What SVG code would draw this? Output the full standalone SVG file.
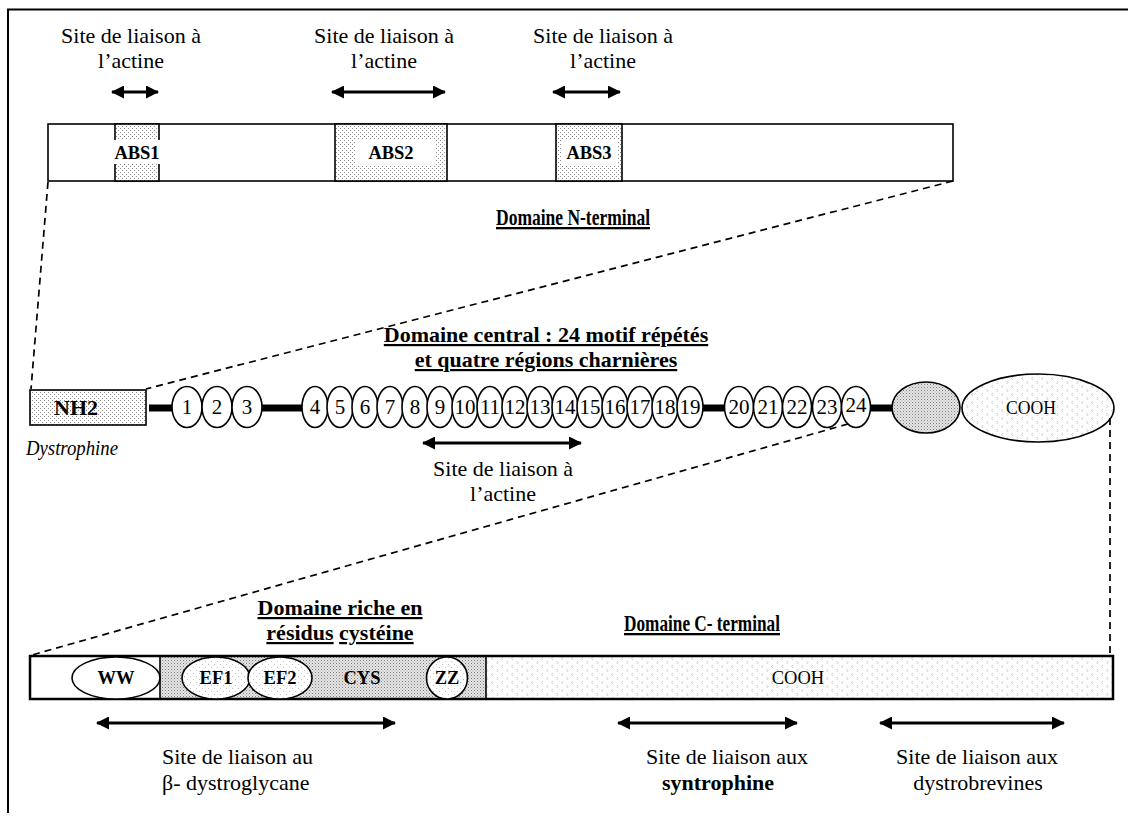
<svg xmlns="http://www.w3.org/2000/svg" width="1128" height="816" viewBox="0 0 1128 816">
  <style>
    .t { font-family: "Liberation Serif", "Times New Roman", serif; font-size: 22px; fill: #000; }
    .b { font-weight: bold; }
    .u { text-decoration: underline; }
    .c { text-anchor: middle; }
    .num { font-family: "Liberation Serif", "Times New Roman", serif; font-size: 21px; text-anchor: middle; fill: #000; }
    .lab { font-family: "Liberation Serif", "Times New Roman", serif; font-size: 18.5px; font-weight: bold; text-anchor: middle; fill: #000; }
    .edge { stroke: #000; stroke-width: 1.6; }
    .rep { fill: #fff; stroke: #000; stroke-width: 1.6; }
    .bar { stroke: #000; stroke-width: 7; }
    .dash { fill: none; stroke: #000; stroke-width: 1.7; stroke-dasharray: 7 5; }
    .arr { fill: none; stroke: #000; stroke-width: 3; marker-start: url(#head); marker-end: url(#head); }
  </style>
  <defs>
    <!-- fine stipple used for the actin-binding boxes and NH2 -->
    <pattern id="dots" width="4" height="4" patternUnits="userSpaceOnUse">
      <rect width="4" height="4" fill="#fff"/>
      <rect x="0" y="0" width="1" height="1" fill="#8c8c8c"/>
      <rect x="2" y="2" width="1" height="1" fill="#8c8c8c"/>
    </pattern>
    <!-- faint stipple inside the small domain ovals -->
    <pattern id="faint" width="6" height="6" patternUnits="userSpaceOnUse">
      <rect width="6" height="6" fill="#fff"/>
      <rect x="1" y="1" width="1" height="1" fill="#c4c4c4"/>
      <rect x="4" y="4" width="1" height="1" fill="#c4c4c4"/>
    </pattern>
    <!-- denser mesh for the cysteine-rich region and the grey oval -->
    <pattern id="mesh" width="3" height="3" patternUnits="userSpaceOnUse">
      <rect width="3" height="3" fill="#e6e6e6"/>
      <rect x="0" y="0" width="1" height="1" fill="#7d7d7d"/>
      <rect x="1.5" y="1.5" width="1" height="1" fill="#a0a0a0"/>
    </pattern>
    <!-- light chevron texture for the carboxy-terminal parts -->
    <pattern id="chev" width="10" height="8" patternUnits="userSpaceOnUse">
      <rect width="10" height="8" fill="#fff"/>
      <path d="M3,1 L1.6,2.5 L3,4 M6.6,5 L8,6.5 L6.6,8" fill="none" stroke="#b0b0b0" stroke-width="0.7"/>
    </pattern>
    <marker id="head" viewBox="0 0 13 13" refX="12" refY="6.5" markerWidth="13" markerHeight="13" markerUnits="userSpaceOnUse" orient="auto-start-reverse">
      <path d="M0,0 L13,6.5 L0,13 Z" fill="#000"/>
    </marker>
  </defs>

  <rect width="1128" height="816" fill="#fff"/>
  <!-- frame -->
  <path d="M8,813 V9.5 H1128" fill="none" stroke="#000" stroke-width="2"/>

  <!-- N-terminal domain -->
  <g id="n-terminal">
    <rect x="48" y="124" width="905" height="57" fill="#fff" class="edge"/>
    <rect x="115" y="124" width="44" height="57" fill="url(#dots)" class="edge"/>
    <rect x="113" y="140" width="48" height="24" fill="#fff"/>
    <text class="lab" x="137" y="159">ABS1</text>
    <rect x="335" y="124" width="112" height="57" fill="url(#dots)" class="edge"/>
    <rect x="356" y="140" width="80" height="25" fill="#fff"/>
    <text class="lab" x="391" y="159">ABS2</text>
    <rect x="556" y="124" width="66" height="57" fill="url(#dots)" class="edge"/>
    <rect x="561" y="140" width="56" height="25" fill="#fff"/>
    <text class="lab" x="589" y="159">ABS3</text>
    <text class="t b u c" x="573" y="225" style="font-size:23px" textLength="154" lengthAdjust="spacingAndGlyphs">Domaine N-terminal</text>
  </g>

  <g id="abs-labels">
    <text class="t c" x="131" y="43">Site de liaison à</text>
    <text class="t c" x="131" y="68">l’actine</text>
    <text class="t c" x="384" y="43">Site de liaison à</text>
    <text class="t c" x="384" y="68">l’actine</text>
    <text class="t c" x="603" y="43">Site de liaison à</text>
    <text class="t c" x="603" y="68">l’actine</text>
  </g>

  <!-- full-length dystrophin -->
  <g id="dystrophine">
    <rect x="30" y="390" width="116" height="35" fill="url(#dots)" class="edge"/>
    <text class="t b c" x="76" y="415">NH2</text>
    <line class="bar" x1="149" y1="408" x2="172" y2="408"/>
    <line class="bar" x1="262" y1="408" x2="303" y2="408"/>
    <line class="bar" x1="702" y1="408" x2="725" y2="408"/>
    <line class="bar" x1="870" y1="408" x2="893" y2="408"/>

    <g id="repeats-1-3">
      <ellipse class="rep" cx="187" cy="407" rx="15" ry="20.5"/>
      <ellipse class="rep" cx="217" cy="407" rx="15" ry="20.5"/>
      <ellipse class="rep" cx="247" cy="407" rx="15" ry="20.5"/>
      <text class="num" x="187" y="414">1</text>
      <text class="num" x="217" y="414">2</text>
      <text class="num" x="247" y="414">3</text>
    </g>

    <g id="repeats-4-19">
      <ellipse class="rep" cx="315" cy="407" rx="13" ry="20.5"/>
      <ellipse class="rep" cx="340" cy="407" rx="13" ry="20.5"/>
      <ellipse class="rep" cx="365" cy="407" rx="13" ry="20.5"/>
      <ellipse class="rep" cx="390" cy="407" rx="13" ry="20.5"/>
      <ellipse class="rep" cx="415" cy="407" rx="13" ry="20.5"/>
      <ellipse class="rep" cx="440" cy="407" rx="13" ry="20.5"/>
      <ellipse class="rep" cx="465" cy="407" rx="13" ry="20.5"/>
      <ellipse class="rep" cx="490" cy="407" rx="13" ry="20.5"/>
      <ellipse class="rep" cx="515" cy="407" rx="13" ry="20.5"/>
      <ellipse class="rep" cx="540" cy="407" rx="13" ry="20.5"/>
      <ellipse class="rep" cx="565" cy="407" rx="13" ry="20.5"/>
      <ellipse class="rep" cx="590" cy="407" rx="13" ry="20.5"/>
      <ellipse class="rep" cx="615" cy="407" rx="13" ry="20.5"/>
      <ellipse class="rep" cx="640" cy="407" rx="13" ry="20.5"/>
      <ellipse class="rep" cx="665" cy="407" rx="13" ry="20.5"/>
      <ellipse class="rep" cx="690" cy="407" rx="13" ry="20.5"/>
      <text class="num" x="315" y="414">4</text>
      <text class="num" x="340" y="414">5</text>
      <text class="num" x="365" y="414">6</text>
      <text class="num" x="390" y="414">7</text>
      <text class="num" x="415" y="414">8</text>
      <text class="num" x="440" y="414">9</text>
      <text class="num" x="465" y="414">10</text>
      <text class="num" x="490" y="414">11</text>
      <text class="num" x="515" y="414">12</text>
      <text class="num" x="540" y="414">13</text>
      <text class="num" x="565" y="414">14</text>
      <text class="num" x="590" y="414">15</text>
      <text class="num" x="615" y="414">16</text>
      <text class="num" x="640" y="414">17</text>
      <text class="num" x="665" y="414">18</text>
      <text class="num" x="690" y="414">19</text>
    </g>

    <g id="repeats-20-24">
      <ellipse class="rep" cx="739" cy="407" rx="14.5" ry="20.5"/>
      <ellipse class="rep" cx="768" cy="407" rx="14.5" ry="20.5"/>
      <ellipse class="rep" cx="797" cy="407" rx="14.5" ry="20.5"/>
      <ellipse class="rep" cx="827" cy="407" rx="14.5" ry="20.5"/>
      <ellipse class="rep" cx="856" cy="407" rx="14.5" ry="20.5"/>
      <text class="num" x="739" y="414">20</text>
      <text class="num" x="768" y="414">21</text>
      <text class="num" x="797" y="414">22</text>
      <text class="num" x="827" y="414">23</text>
      <text class="num" x="856" y="412">24</text>
    </g>

    <ellipse cx="926" cy="407.5" rx="34" ry="25.5" fill="url(#mesh)" class="edge"/>
    <ellipse cx="1038" cy="408" rx="76" ry="34" fill="url(#chev)" class="edge"/>
    <text class="t c" x="1031" y="414" style="font-size:18.5px" textLength="50" lengthAdjust="spacingAndGlyphs">COOH</text>

    <text class="t" x="26" y="455" style="font-style:italic;font-size:20px" textLength="92" lengthAdjust="spacingAndGlyphs">Dystrophine</text>
  </g>

  <g id="central-title">
    <text class="t b u c" x="546" y="342">Domaine central : 24 motif répétés</text>
    <text class="t b u c" x="546" y="367">et quatre régions charnières</text>
  </g>

  <g id="central-actin-label">
    <text class="t c" x="503" y="476">Site de liaison à</text>
    <text class="t c" x="503" y="501">l’actine</text>
  </g>

  <!-- C-terminal part -->
  <g id="c-terminal">
    <rect x="30" y="656" width="130" height="43" fill="#fff"/>
    <rect x="160" y="656" width="326" height="43" fill="url(#mesh)"/>
    <rect x="486" y="656" width="627" height="43" fill="url(#chev)"/>
    <line x1="160" y1="656" x2="160" y2="699" class="edge"/>
    <line x1="486" y1="656" x2="486" y2="699" class="edge"/>
    <rect x="30" y="656" width="1083" height="43" fill="none" stroke="#000" stroke-width="2.5"/>
    <ellipse cx="116" cy="678" rx="44" ry="21" fill="#fff" class="edge"/>
    <ellipse cx="216" cy="678" rx="34" ry="21" fill="url(#faint)" class="edge"/>
    <ellipse cx="280" cy="678" rx="32" ry="21" fill="url(#faint)" class="edge"/>
    <ellipse cx="447" cy="678" rx="20.5" ry="21" fill="url(#faint)" class="edge"/>
    <text class="lab" x="116" y="684">WW</text>
    <text class="lab" x="216" y="684">EF1</text>
    <text class="lab" x="280" y="684">EF2</text>
    <text class="lab" x="362" y="684">CYS</text>
    <text class="lab" x="447" y="684">ZZ</text>
    <text class="t c" x="798" y="684" style="font-size:18.5px">COOH</text>

    <text class="t b u c" x="340" y="615">Domaine riche en</text>
    <text class="t b c" x="340" y="640"><tspan class="u">résidus</tspan> <tspan class="u">cystéine</tspan></text>
    <text class="t b u c" x="702" y="631" style="font-size:23px" textLength="156" lengthAdjust="spacingAndGlyphs">Domaine C- terminal</text>
  </g>

  <g id="binding-labels">
    <text class="t" x="162" y="764">Site de liaison au</text>
    <text class="t" x="162" y="790">β- dystroglycane</text>
    <text class="t c" x="727" y="764">Site de liaison aux</text>
    <text class="t b c" x="718" y="790">syntrophine</text>
    <text class="t c" x="977" y="764">Site de liaison aux</text>
    <text class="t c" x="978" y="790">dystrobrevines</text>
  </g>

  <!-- zoom lines and binding-range arrows -->
  <g id="connectors">
    <line class="dash" x1="48" y1="182" x2="31" y2="389"/>
    <line class="dash" x1="953" y1="181" x2="146" y2="389"/>
    <line class="dash" x1="848" y1="424" x2="32" y2="655"/>
    <line class="dash" x1="1110" y1="418" x2="1110" y2="655"/>

    <line class="arr" x1="112" y1="92" x2="158" y2="92"/>
    <line class="arr" x1="332" y1="92" x2="445" y2="92"/>
    <line class="arr" x1="553" y1="92" x2="620" y2="92"/>
    <line class="arr" x1="423" y1="443" x2="581" y2="443"/>
    <line class="arr" x1="97" y1="723" x2="395" y2="723"/>
    <line class="arr" x1="618" y1="723" x2="797" y2="723"/>
    <line class="arr" x1="880" y1="723" x2="1064" y2="723"/>
  </g>
</svg>
